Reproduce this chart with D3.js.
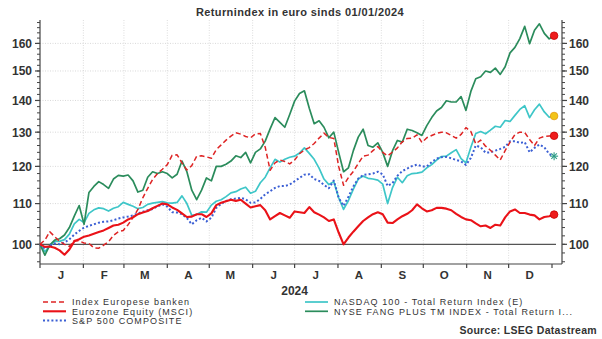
<!DOCTYPE html>
<html><head><meta charset="utf-8">
<script src="https://cdn.jsdelivr.net/npm/d3@7"></script>
<style>
body{margin:0;background:#fff}
svg{display:block;font-family:"Liberation Sans",Arial,sans-serif}
</style>
</head><body>
<svg id="chart" width="602" height="339"></svg>
<script>
// Return index (EUR), rebased to 100 on 01/01/2024, sampled twice a week
const sampleStepHours = 84;
const sampleCount = 106;
const sampleDates = d3.range(sampleCount).map(i => d3.timeHour.offset(new Date(2024, 0, 1), i * sampleStepHours));

const banken = [
  100, 101, 103, 101.8, 100.7, 100, 99.5, 100.9, 100.8, 100.3,
  100.2, 99.2, 99.1, 99.8, 100.6, 102.1, 103, 103.3, 104.7, 106.5,
  108.5, 111.5, 114, 116.4, 118, 119.2, 120.5, 123.2, 123.3, 121,
  119, 120.2, 122.9, 123, 122.7, 122.3, 124.8, 126.2, 127.6, 128.8,
  129.8, 129.4, 128.7, 128.3, 129.5, 129.6, 125.5, 118.9, 121, 121.8,
  121.4, 120.7, 121.8, 123.6, 124.7, 125.4, 126.6, 128.2, 129.7, 128.4,
  128.1, 120, 114.8, 116.9, 118.6, 120.8, 122.9, 123.2, 124.5, 125.7,
  124, 123, 124.1, 125.3, 127.1, 128.1, 128.2, 129.2, 126.9, 128.3,
  129, 129.6, 130, 129.8, 129, 128.2, 129.3, 131.4, 130.2, 126.5,
  127.6, 125.8, 124.6, 123.2, 121.8, 124.5, 127, 129.3, 130, 129.9,
  127.8, 126, 128.2, 128.7, 128.8, 128.9
];
const eurozone = [
  100, 99.4, 99.5, 99.2, 98.6, 97.6, 98.8, 100.7, 101.2, 101.8,
  102.1, 102.5, 102.9, 103.3, 103.9, 104.5, 104.7, 105.2, 106, 106.5,
  107.3, 107.7, 108.1, 108.8, 109.4, 110, 109.8, 109, 108.4, 107.5,
  106.6, 106.7, 107.3, 107.3, 106.6, 107.5, 109.6, 110.2, 110.6, 111,
  110.7, 111, 110, 109, 109.3, 109.6, 108.3, 106, 106.8, 107.6,
  107, 106.4, 108, 107.8, 107.6, 109.1, 107.8, 107.2, 106.5, 105.6,
  106, 102.8, 100, 101.6, 103, 104.3, 105.6, 106.5, 107.3, 107.8,
  107.3, 105.2, 105.1, 106, 106.8, 107.4, 108.3, 109.8, 108.8, 108,
  108.3, 108.9, 108.9, 108.7, 108.3, 107.4, 106.6, 106, 105.8, 105,
  104.3, 104.5, 103.9, 104.7, 104.5, 106.5, 108, 108.5, 107.6, 107.6,
  107.2, 107, 106, 106.6, 106.8, 107.2
];
const sp500 = [
  100, 99, 99.7, 100.2, 100, 100.4, 101.2, 102.3, 103.2, 104,
  104.4, 104.8, 105.2, 105.4, 105.5, 105.8, 106.2, 106.5, 106.7, 107,
  107.5, 107.9, 108.3, 108.6, 109.3, 109.8, 109.2, 107.8, 107.7, 107.3,
  106.3, 104.8, 105.8, 106.4, 105.5, 106.4, 108.9, 109.9, 110.7, 111.1,
  111.3, 111.5, 111.1, 110.2, 110.3, 111.2, 112.4, 113.2, 114.1, 114.6,
  114.6, 115, 115.9, 116.8, 117.7, 117.8, 116.5, 116, 114.9, 114,
  116.1, 111.5, 109.4, 111.8, 114.5, 116.6, 117.6, 117.8, 118, 118.5,
  117.8, 114.6, 115.4, 117.4, 118.7, 119.4, 120.1, 120.5, 120, 120,
  121.2, 122.2, 122.6, 122.7, 122.3, 121.8, 121.4, 120.4, 122.4, 126,
  125.5, 123.9, 124, 124.5, 125, 125.6, 127.3, 127.3, 126.8, 127,
  124, 125.3, 126.3, 125.5, 123.5, 122.9
];
const nasdaq100 = [
  100, 98.3, 99.6, 100.7, 100.7, 101.1, 102.4, 104.9, 106, 105.2,
  107.5, 108.4, 108.9, 108.7, 108.1, 108.8, 109.2, 110.3, 109.8, 109.3,
  108.7, 109, 109.8, 110.1, 110.3, 110.5, 110.2, 110.1, 110.3, 112,
  110, 107, 107.2, 107.9, 107.8, 109.6, 110.6, 111, 111.8, 112.8,
  113.1, 113.8, 114.3, 112.7, 113.2, 115.5, 117, 119.6, 122, 121.2,
  122, 122.6, 122.9, 123.8, 125.3, 123.7, 122, 119.5, 116.5, 115,
  115.8, 111.5, 108.5, 110.8, 113.8, 116.5, 117.3, 116.7, 116.5, 116.2,
  115.1, 110, 114.2, 117, 115.5, 117.4, 118, 118.1, 118.4, 119.6,
  120.5, 121.8, 122.8, 122.9, 123.9, 124.8, 122.2, 121, 125.5, 129.6,
  130.2, 129.5, 130.6, 131.8, 131.5, 133.6, 133.3, 135.2, 137.1, 138.3,
  134.5, 137, 138.8, 136.3, 134.6, 135
];
const fangPlus = [
  100, 97.5, 99.8, 101, 101.3, 102.2, 104, 106.8, 109.5, 104.8,
  112.9, 114.5, 115.8, 115, 114, 116.5, 117.5, 117.3, 117.6, 116,
  113, 113.5, 117, 118.5, 118, 118.5, 118, 116.8, 117.8, 121.5,
  118.5, 113.5, 111, 113.5, 116.8, 116, 120, 120, 120.6, 121.5,
  123, 122.5, 124, 121, 124, 125, 127.3, 131, 134.5, 133,
  131.5, 135.5, 139.8, 142.3, 143.2, 137.5, 132.6, 133.5, 131.5, 128.3,
  130, 124, 118.5, 119.6, 124.5, 128.5, 130.9, 126, 125.5, 126.8,
  124, 120, 124.5, 127.5, 127, 130.9, 130.5, 129.8, 129, 132,
  134.5, 136.6, 137.7, 139.9, 139.5, 139.5, 141.3, 136.8, 143, 147.3,
  148, 150, 149.5, 151, 148.8, 151.5, 156.5, 158.5, 161.8, 166.5,
  159.9, 165, 167.5, 163.8, 161.7, 162.9
];

const monthLabels = ["J","F","M","A","M","J","J","A","S","O","N","D"];
const yearLabel = "2024";
const yTickValues = [100, 110, 120, 130, 140, 150, 160];
const yMinorValues = d3.range(96, 169, 2);
const titleText = "Returnindex in euro sinds 01/01/2024";
const sourceText = "Source: LSEG Datastream";

const series = [
  {name: "NASDAQ 100 - Total Return Index (E)", values: nasdaq100, color: "#3ec6c8", width: 1.7, dash: null, marker: "circle", markerFill: "#f2c418", markerStroke: "#e59a10"},
  {name: "NYSE FANG PLUS TM INDEX - Total Return I...", values: fangPlus, color: "#2b8c5c", width: 1.7, dash: null, marker: "circle", markerFill: "#ee1c1c", markerStroke: "#c80000"},
  {name: "S&P 500 COMPOSITE", values: sp500, color: "#3b5fd4", width: 2, dash: "2,2.2", marker: "star", markerFill: "none", markerStroke: "#2d9c86"},
  {name: "Index Europese banken", values: banken, color: "#de2424", width: 1.5, dash: "5,3", marker: "circle", markerFill: "#ee1c1c", markerStroke: "#c80000"},
  {name: "Eurozone Equity (MSCI)", values: eurozone, color: "#ea1218", width: 2.1, dash: null, marker: "circle", markerFill: "#ee1c1c", markerStroke: "#c80000"}
];
const legendOrder = [
  ["Index Europese banken", 0, 0],
  ["Eurozone Equity (MSCI)", 0, 1],
  ["S&P 500 COMPOSITE", 0, 2],
  ["NASDAQ 100 - Total Return Index (E)", 1, 0],
  ["NYSE FANG PLUS TM INDEX - Total Return I...", 1, 1]
];

const svg = d3.select("#chart");
const plotLeft = 40, plotRight = 562, plotTop = 20, plotBottom = 264;

const x = d3.scaleTime()
  .domain([new Date(2024, 0, 1), new Date(2025, 0, 1)])
  .range([plotLeft, 552]);
const y = d3.scaleLog().domain([95.5, 169]).range([plotBottom, plotTop]);

// title
svg.append("text").attr("x", 300).attr("y", 16).attr("text-anchor", "middle")
  .attr("font-size", 11).attr("font-weight", "bold").attr("fill", "#333")
  .attr("letter-spacing", 0.4).text(titleText);

// grid
const months = d3.timeMonth.range(new Date(2024, 1, 1), new Date(2025, 0, 1));
svg.append("g").selectAll("line").data(months).join("line")
  .attr("x1", d => x(d)).attr("x2", d => x(d))
  .attr("y1", plotTop).attr("y2", plotBottom)
  .attr("stroke", "#d4d4d4").attr("stroke-width", 0.8).attr("stroke-dasharray", "1,1.5");
svg.append("g").selectAll("line").data(yTickValues.filter(v => v !== 100)).join("line")
  .attr("x1", plotLeft).attr("x2", plotRight)
  .attr("y1", d => y(d)).attr("y2", d => y(d))
  .attr("stroke", "#cfcfcf").attr("stroke-width", 0.8).attr("stroke-dasharray", "1,1.5");
svg.append("line").attr("x1", plotLeft).attr("x2", 556)
  .attr("y1", y(100)).attr("y2", y(100))
  .attr("stroke", "#555").attr("stroke-width", 1.2);

// y axes
const axisColor = "#444";
function yAxisSide(xPos, dir, anchor, labelX) {
  const g = svg.append("g");
  g.append("line").attr("x1", xPos).attr("x2", xPos).attr("y1", plotTop).attr("y2", plotBottom)
    .attr("stroke", axisColor).attr("stroke-width", 1.2);
  g.selectAll(".mn").data(yMinorValues).join("line")
    .attr("x1", xPos).attr("x2", xPos + dir * 3)
    .attr("y1", d => y(d)).attr("y2", d => y(d))
    .attr("stroke", axisColor).attr("stroke-width", 1);
  g.selectAll(".mj").data(yTickValues).join("line")
    .attr("x1", xPos).attr("x2", xPos + dir * 5)
    .attr("y1", d => y(d)).attr("y2", d => y(d))
    .attr("stroke", axisColor).attr("stroke-width", 1.2);
  g.selectAll("text").data(yTickValues).join("text")
    .attr("x", labelX).attr("y", d => y(d) + 4.5)
    .attr("text-anchor", anchor).attr("font-size", 12).attr("font-weight", "bold")
    .attr("fill", "#333").text(d => d);
}
yAxisSide(plotLeft, -1, "end", 32);
yAxisSide(plotRight, 1, "start", 569);

// x axis
const xg = svg.append("g");
xg.append("line").attr("x1", plotLeft).attr("x2", plotRight).attr("y1", plotBottom).attr("y2", plotBottom)
  .attr("stroke", axisColor).attr("stroke-width", 1.2);
const monthStarts = d3.timeMonth.range(new Date(2024, 0, 1), new Date(2025, 0, 2));
xg.selectAll(".tk").data(monthStarts).join("line")
  .attr("x1", d => x(d)).attr("x2", d => x(d))
  .attr("y1", plotBottom).attr("y2", plotBottom + 4)
  .attr("stroke", axisColor).attr("stroke-width", 1.2);
xg.selectAll("text").data(monthLabels).join("text")
  .attr("x", (d, i) => x(new Date(2024, i, 16)))
  .attr("y", 279).attr("text-anchor", "middle")
  .attr("font-size", 11.5).attr("font-weight", "bold").attr("fill", "#333")
  .text(d => d);
xg.append("text").attr("x", x(new Date(2024, 6, 1))).attr("y", 295)
  .attr("text-anchor", "middle").attr("font-size", 12).attr("font-weight", "bold")
  .attr("fill", "#333").text(yearLabel);

// lines
const line = d3.line().x((d, i) => x(sampleDates[i])).y(d => y(d));
const plot = svg.append("g");
series.forEach(s => {
  plot.append("path").datum(s.values)
    .attr("fill", "none").attr("stroke", s.color).attr("stroke-width", s.width)
    .attr("stroke-dasharray", s.dash).attr("stroke-linejoin", "round")
    .attr("d", line);
});

// end-of-period markers
series.forEach(s => {
  const lx = x(sampleDates[s.values.length - 1]);
  const ly = y(s.values[s.values.length - 1]);
  if (s.marker === "circle") {
    plot.append("circle").attr("cx", lx).attr("cy", ly).attr("r", 3.8)
      .attr("fill", s.markerFill).attr("stroke", s.markerStroke).attr("stroke-width", 0.8);
  } else {
    const r = 4;
    [[-r, 0, r, 0], [0, -r, 0, r], [-r * 0.7, -r * 0.7, r * 0.7, r * 0.7], [-r * 0.7, r * 0.7, r * 0.7, -r * 0.7]]
      .forEach(p => plot.append("line")
        .attr("x1", lx + p[0]).attr("y1", ly + p[1]).attr("x2", lx + p[2]).attr("y2", ly + p[3])
        .attr("stroke", s.markerStroke).attr("stroke-width", 1.1));
  }
});

// legend
const lg = svg.append("g");
legendOrder.forEach(([name, col, row]) => {
  const s = series.find(d => d.name === name);
  const lx0 = col === 0 ? 43 : 305;
  const ly = 302 + row * 9.3;
  lg.append("line").attr("x1", lx0).attr("x2", lx0 + 23).attr("y1", ly).attr("y2", ly)
    .attr("stroke", s.color).attr("stroke-width", s.width).attr("stroke-dasharray", s.dash);
  lg.append("text").attr("x", lx0 + 29).attr("y", ly + 3.3)
    .attr("font-size", 9).attr("letter-spacing", 1.1).attr("fill", "#333")
    .text(name);
});

svg.append("text").attr("x", 597).attr("y", 334).attr("text-anchor", "end")
  .attr("font-size", 10.5).attr("font-weight", "bold").attr("fill", "#333")
  .attr("letter-spacing", 0.3).text(sourceText);
</script>
</body></html>
